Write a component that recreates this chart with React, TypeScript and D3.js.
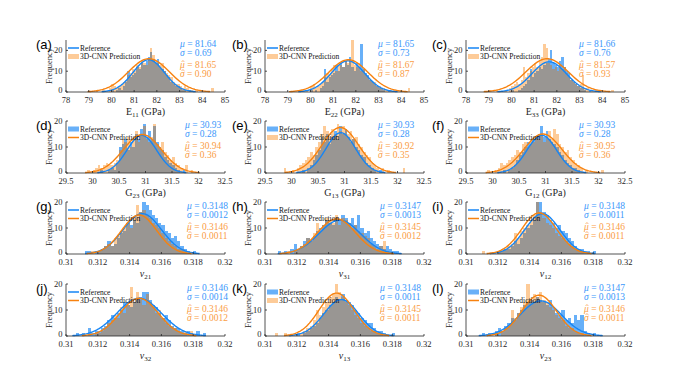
import React from "react";
import * as d3 from "d3";

// ---------- data ----------
const panelLetters = ["(a)", "(b)", "(c)", "(d)", "(e)", "(f)", "(g)", "(h)", "(i)", "(j)", "(k)", "(l)"];
const xLabelMain = ["E", "E", "E", "G", "G", "G", "ν", "ν", "ν", "ν", "ν", "ν"];
const xLabelSub = ["11", "22", "33", "23", "13", "12", "21", "31", "12", "32", "13", "23"];
const xLabelUnit = [" (GPa)", " (GPa)", " (GPa)", " (GPa)", " (GPa)", " (GPa)", "", "", "", "", "", ""];

const rowDomains = [[78, 85], [29.5, 32.5], [0.31, 0.32], [0.31, 0.32]];
const rowTicks = [
  [78, 79, 80, 81, 82, 83, 84, 85],
  [29.5, 30, 30.5, 31, 31.5, 32, 32.5],
  [0.31, 0.312, 0.314, 0.316, 0.318, 0.32],
  [0.31, 0.312, 0.314, 0.316, 0.318, 0.32],
];
const rowYMax = [25, 20, 20, 20];
const yTickValues = [0, 10, 20];
const rowBinWidth = [0.1, 0.05, 0.0002, 0.0002];
const rowDecimals = [2, 2, 4, 4];

const refStart = [80.0, 80.0, 80.0, 30.15, 30.2, 30.2, 0.3112, 0.3108, 0.312, 0.3106, 0.312, 0.311];
const predStart = [79.3, 79.5, 79.0, 29.9, 29.85, 29.9, 0.3116, 0.3114, 0.311, 0.3118, 0.3106, 0.3118];

const refA = [1,0,1,2,1,3,5,10,7,8,9,12,11,14,13,15,17,19,16,14,16,12,11,10,8,7,5,4,3,3,2,1,1,0,1];
const predA = [1,0,0,1,0,0,2,4,3,2,3,4,5,6,8,9,11,10,13,12,15,14,13,16,21,18,15,14,13,14,10,9,8,7,5,4,4,3,2,3,2,1,1,0,1,0,0,0,0,0,0,2];
const refB = [1,0,1,0,2,3,11,5,7,8,9,13,10,14,12,15,13,17,12,10,14,12,23,11,9,8,6,5,4,3,2,2,1,0,1];
const predB = [1,0,0,1,0,3,4,2,3,4,5,7,9,8,11,13,10,14,13,12,15,14,16,25,13,12,14,10,11,8,7,6,5,5,3,3,2,2,1,0,1,0,0,0,0,0,0,0,2];
const refC = [1,0,0,1,2,3,4,6,11,7,9,10,12,11,13,14,16,20,14,13,12,15,17,12,10,9,6,5,4,3,2,2,1,0,1];
const predC = [1,0,0,1,0,0,0,1,0,2,3,4,5,4,6,12,7,9,10,12,14,12,15,17,23,21,14,13,11,12,10,13,11,12,9,7,6,5,4,3,4,8,2,2,0,1,0,1,0,0,0,0,0,0,1];
const refD = [1,0,0,1,2,1,4,10,11,13,9,12,10,15,13,17,19,14,16,13,18,12,10,9,6,5,4,3,2,1,0,1];
const predD = [1,0,1,2,3,2,3,4,3,3,4,5,9,13,12,14,10,13,16,12,15,18,13,12,14,19,11,10,12,8,7,5,6,4,3,2,0,3,0,1];
const refE = [1,0,2,3,5,7,9,14,12,15,11,14,16,13,18,15,17,14,12,13,10,9,7,6,4,3,2,1,0,1];
const predE = [2,0,0,1,0,2,3,4,5,6,8,7,10,12,15,18,16,14,17,15,19,16,18,17,15,16,13,14,11,10,8,7,6,4,3,2,0,2,0,1,0,0,0,0,0,2];
const refF = [1,0,1,2,3,5,7,8,10,12,11,13,14,15,18,14,16,13,12,11,10,8,7,5,4,3,2,2,1];
const predF = [1,0,0,1,2,4,3,4,5,6,7,9,8,11,12,10,13,12,14,13,15,12,14,16,13,17,15,11,10,8,9,6,5,4,3,2,0,1,0,0,0,0,0,1];
const refG = [1,1,0,1,1,2,3,5,3,4,6,8,9,12,11,13,12,16,20,19,17,15,14,12,11,9,8,6,7,5,3,2,1,0,1];
const predG = [1,0,1,2,3,4,3,6,7,9,10,12,10,14,19,16,17,15,14,12,11,10,8,6,5,4,3,2,2,1];
const refH = [1,0,1,0,2,4,2,3,5,6,5,7,9,10,11,13,12,11,14,13,15,14,12,14,11,15,10,8,9,6,5,4,3,2,3,2,1,1];
const predH = [1,0,1,2,3,4,6,5,8,12,9,11,14,13,12,15,11,14,13,12,10,11,9,8,7,6,4,3,2,3,5,1];
const refI = [1,1,2,2,3,5,4,6,8,10,11,13,20,20,16,15,13,12,10,11,9,8,6,5,3,2,2,1,1,0,1];
const predI = [1,0,0,0,0,1,2,2,3,4,8,6,9,10,11,13,15,20,16,14,12,11,10,8,7,6,5,4,3,2,2,1];
const refJ = [1,0,1,0,3,1,2,2,3,4,6,8,7,9,10,13,12,11,13,14,15,17,17,14,12,11,9,7,8,6,4,3,3,2,1,2,1,0,2,0,1];
const predJ = [1,1,2,3,5,6,8,7,11,9,12,19,13,17,14,12,16,13,11,9,10,7,5,4,3,3,2,1,2,0,2];
const refK = [1,0,1,2,3,4,5,7,9,10,12,13,15,14,16,14,13,12,10,9,7,6,5,5,3,2,2,1,0,0,1];
const predK = [1,0,0,1,0,0,0,0,1,2,3,4,6,10,8,11,13,15,16,20,17,15,13,12,10,8,7,5,4,3,2,2,1,1];
const refL = [1,0,1,0,2,3,2,4,5,7,6,9,10,12,13,14,13,15,14,13,12,14,11,9,8,10,6,7,5,8,6,8,2,1,0,1];
const predL = [1,0,2,3,4,10,7,9,11,13,20,14,16,15,17,14,13,11,10,8,7,6,4,3,3,2,1,1];

const refCounts = [refA, refB, refC, refD, refE, refF, refG, refH, refI, refJ, refK, refL];
const predCounts = [predA, predB, predC, predD, predE, predF, predG, predH, predI, predJ, predK, predL];

const refMu = [81.64, 81.65, 81.66, 30.93, 30.93, 30.93, 0.3148, 0.3147, 0.3148, 0.3146, 0.3148, 0.3147];
const refSigma = [0.69, 0.73, 0.76, 0.28, 0.28, 0.28, 0.0012, 0.0013, 0.0011, 0.0014, 0.0011, 0.0013];
const predMu = [81.65, 81.67, 81.57, 30.94, 30.92, 30.95, 0.3146, 0.3145, 0.3146, 0.3146, 0.3145, 0.3146];
const predSigma = [0.9, 0.87, 0.93, 0.36, 0.35, 0.36, 0.0011, 0.0012, 0.0011, 0.0012, 0.0011, 0.0011];
const refPeak = [15.5, 15, 14.5, 14.5, 15.5, 14.5, 15.5, 13, 15.5, 14.5, 14, 13.5];
const predPeak = [16, 15.5, 16, 14.8, 17.5, 15, 15, 13.5, 15.8, 14.5, 16.5, 15.7];

const seriesNames = ["Reference", "3D-CNN Prediction"];
const refLegendPatch = [false, false, false, true, true, true, false, false, false, false, true, true];
const predLegendPatch = [true, true, true, false, true, false, false, false, false, false, true, false];

// ---------- layout & style ----------
const W = 677;
const H = 379;
const colLeft = [66, 265, 466];
const rowTop = [40, 121, 202, 284];
const plotW = 159;
const plotH = 52;
const statDx = [114, 113, 113, 119, 113, 113, 121, 115, 118, 121, 115, 118];
const letterDx = [-30, -33, -34];

const BLUE = "#1585f5";
const ORANGE = "#f7820f";
const BLUE_BAR = "#68b0f8";
const ORANGE_BAR = "#fdcb98";
const GRAY_BAR = "#999693";
const BLUE_TXT = "#3a97fb";
const ORANGE_TXT = "#fa9d45";
const AXIS = "#262626";
const SERIF = "'Liberation Serif', 'Times New Roman', serif";
const SANS = "'Liberation Sans', Arial, sans-serif";

function fmtTick(v: number, row: number) {
  if (row <= 1) return String(v);
  return String(+v.toFixed(3));
}

function Panel({ idx }: { idx: number }) {
  const row = Math.floor(idx / 3);
  const col = idx % 3;
  const left = colLeft[col];
  const top = rowTop[row];
  const bottom = top + plotH;
  const x = d3.scaleLinear().domain(rowDomains[row]).range([left, left + plotW]);
  const y = d3.scaleLinear().domain([0, rowYMax[row]]).range([bottom, top]);
  const bw = rowBinWidth[row];

  const refMap = new Map<number, number>();
  const predMap = new Map<number, number>();
  const k0r = Math.round(refStart[idx] / bw);
  const k0p = Math.round(predStart[idx] / bw);
  refCounts[idx].forEach((c, i) => refMap.set(k0r + i, c));
  predCounts[idx].forEach((c, i) => predMap.set(k0p + i, c));
  const keys = Array.from(new Set([...refMap.keys(), ...predMap.keys()])).sort((a, b) => a - b);

  const bar = (k: number, c: number, fill: string, key: string) => {
    if (!c) return null;
    const x0 = x(k * bw);
    const x1 = x((k + 1) * bw);
    return <rect key={key} x={x0} y={y(c)} width={Math.max(0, x1 - x0)} height={bottom - y(c)} fill={fill} shapeRendering="crispEdges" />;
  };

  const curve = (mu: number, sigma: number, peak: number) => {
    const pts = d3.range(0, 121).map((i) => {
      const v = mu - 3 * sigma + (6 * sigma * i) / 120;
      return [v, peak * Math.exp(-((v - mu) ** 2) / (2 * sigma * sigma))] as [number, number];
    });
    return d3.line<[number, number]>().x((d) => x(d[0])).y((d) => y(d[1]))(pts) || "";
  };

  const dec = rowDecimals[row];
  const sx = left + statDx[idx];
  const statLine = (greek: string, hat: boolean, val: number, dy: number, color: string) => (
    <g>
      <text x={sx} y={top + dy} fontFamily={SERIF} fontSize={9.5} fill={color}>
        <tspan fontStyle="italic">{greek}</tspan>
        <tspan> = {val.toFixed(dec)}</tspan>
      </text>
      {hat && (
        <text x={sx + 3} y={top + dy - 0.5} fontFamily={SERIF} fontSize={9.5} fill={color} textAnchor="middle">
          ˆ
        </text>
      )}
    </g>
  );

  const legendItem = (i: number, patch: boolean, lineColor: string, patchColor: string) => {
    const ly = top + 8 + i * 8.5;
    return (
      <g key={i}>
        {patch ? (
          <rect x={left + 2} y={ly - 2.5} width={11} height={5} fill={patchColor} />
        ) : (
          <line x1={left + 2} x2={left + 13} y1={ly} y2={ly} stroke={lineColor} strokeWidth={1.5} />
        )}
        <text x={left + 14} y={ly + 2.5} fontFamily={SERIF} fontSize={7.5} fill="#111">
          {seriesNames[i]}
        </text>
      </g>
    );
  };

  return (
    <g>
      {keys.map((k) => bar(k, refMap.get(k) || 0, BLUE_BAR, `b${k}`))}
      {keys.map((k) => bar(k, predMap.get(k) || 0, ORANGE_BAR, `o${k}`))}
      {keys.map((k) => bar(k, Math.min(refMap.get(k) || 0, predMap.get(k) || 0), GRAY_BAR, `g${k}`))}
      <path d={curve(refMu[idx], refSigma[idx], refPeak[idx])} fill="none" stroke={BLUE} strokeWidth={1.4} />
      <path d={curve(predMu[idx], predSigma[idx], predPeak[idx])} fill="none" stroke={ORANGE} strokeWidth={1.4} />
      <line x1={left} x2={left + plotW} y1={bottom} y2={bottom} stroke={AXIS} strokeWidth={0.8} />
      <line x1={left} x2={left} y1={top} y2={bottom} stroke={AXIS} strokeWidth={0.8} />
      {rowTicks[row].map((t) => (
        <g key={`xt${t}`}>
          <line x1={x(t)} x2={x(t)} y1={bottom} y2={bottom - 2} stroke={AXIS} strokeWidth={0.8} />
          <text x={x(t)} y={bottom + 11} textAnchor="middle" fontFamily={SERIF} fontSize={8.5} fill={AXIS}>
            {fmtTick(t, row)}
          </text>
        </g>
      ))}
      {yTickValues.map((t) => (
        <g key={`yt${t}`}>
          <line x1={left} x2={left + 2} y1={y(t)} y2={y(t)} stroke={AXIS} strokeWidth={0.8} />
          <text x={left - 3.5} y={y(t) + (t === 0 ? 1.3 : 2.8)} textAnchor="end" fontFamily={SERIF} fontSize={8.5} fill={AXIS}>
            {t}
          </text>
        </g>
      ))}
      <text
        transform={`translate(${left - 14},${top + plotH / 2}) rotate(-90)`}
        textAnchor="middle"
        fontFamily={SERIF}
        fontSize={8.5}
        fill={AXIS}
      >
        Frequency
      </text>
      <text x={left + plotW / 2} y={bottom + 22.5} textAnchor="middle" fontFamily={SERIF} fontSize={10} fill={AXIS}>
        <tspan fontStyle={row >= 2 ? "italic" : "normal"}>{xLabelMain[idx]}</tspan>
        <tspan fontSize={7} dy={2.5}>{xLabelSub[idx]}</tspan>
        <tspan dy={-2.5}>{xLabelUnit[idx]}</tspan>
      </text>
      {legendItem(0, refLegendPatch[idx], BLUE, BLUE_BAR)}
      {legendItem(1, predLegendPatch[idx], ORANGE, ORANGE_BAR)}
      {statLine("μ", false, refMu[idx], 6.8, BLUE_TXT)}
      {statLine("σ", false, refSigma[idx], 15.5, BLUE_TXT)}
      {statLine("μ", true, predMu[idx], 28, ORANGE_TXT)}
      {statLine("σ", true, predSigma[idx], 37, ORANGE_TXT)}
      <text x={left + letterDx[col]} y={top + 8.5} fontFamily={SANS} fontSize={13} fill="#000">
        {panelLetters[idx]}
      </text>
    </g>
  );
}

export default function App() {
  return (
    <svg
      width={W}
      height={H}
      viewBox={`0 0 ${W} ${H}`}
      style={{ position: "absolute", left: 0, top: 0, background: "#fff" }}
    >
      <rect x={0} y={0} width={W} height={H} fill="#fff" />
      {d3.range(12).map((i) => (
        <Panel key={i} idx={i} />
      ))}
    </svg>
  );
}
